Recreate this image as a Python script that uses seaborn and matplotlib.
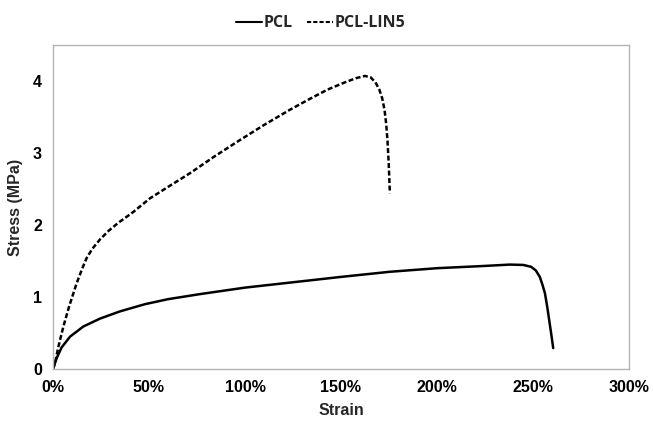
import numpy as np
import pandas as pd
import matplotlib
matplotlib.use("Agg")
import matplotlib.pyplot as plt
import seaborn as sns
from matplotlib.ticker import FuncFormatter
from matplotlib.lines import Line2D

# Data (strain in %, stress in MPa)
pcl_strain = [0, 1.9, 4.5, 8.9, 15.8, 24.5, 34.9, 47.9, 60, 76.6, 100, 126.9, 150.4,
              175.5, 200.2, 224.1, 238, 245, 249, 251.5, 253.6, 255, 256.3, 257.5,
              258.5, 259.6, 260.6]
pcl_stress = [0, 0.15, 0.30, 0.45, 0.59, 0.70, 0.80, 0.90, 0.97, 1.04, 1.13, 1.21, 1.28,
              1.35, 1.40, 1.43, 1.45, 1.445, 1.42, 1.37, 1.28, 1.17, 1.05, 0.86,
              0.68, 0.48, 0.29]

lin_strain = [0, 1, 2.8, 5.4, 8.4, 12.3, 15.3, 17.5, 20.5, 24.5, 29, 34, 41.8, 50.5,
              60, 71.4, 84, 97.4, 110, 123.4, 133, 143, 152, 158, 162.5, 165.5, 168,
              170, 171.5, 172.7, 173.6, 174.3, 174.9, 175.5]
lin_stress = [0, 0.08, 0.31, 0.59, 0.87, 1.19, 1.40, 1.54, 1.67, 1.80, 1.92, 2.03, 2.18,
              2.37, 2.53, 2.72, 2.95, 3.18, 3.39, 3.60, 3.74, 3.88, 3.98, 4.04, 4.07,
              4.05, 3.98, 3.88, 3.76, 3.60, 3.40, 3.15, 2.85, 2.44]

series_names = ["PCL", "PCL-LIN5"]
x_ticks = [0, 50, 100, 150, 200, 250, 300]
y_ticks = [0, 1, 2, 3, 4]

df = pd.concat([
    pd.DataFrame({"Strain": pcl_strain, "Stress": pcl_stress, "Sample": series_names[0]}),
    pd.DataFrame({"Strain": lin_strain, "Stress": lin_stress, "Sample": series_names[1]}),
], ignore_index=True)

sns.set_theme(style="white")
plt.rcParams['font.family'] = ['Liberation Sans', 'DejaVu Sans']

fig = plt.figure(figsize=(6.53, 4.25), dpi=100)
ax = fig.add_axes([0.0812, 0.1318, 0.8818, 0.7624])

dash = (0, (2.0, 1.0))
styles = {"PCL": "-", "PCL-LIN5": dash}
for name in series_names:
    sub = df[df["Sample"] == name]
    sns.lineplot(data=sub, x="Strain", y="Stress", ax=ax, color="black",
                 linewidth=1.8, sort=False, estimator=None, legend=False)
    ax.lines[-1].set_linestyle(styles[name])
    ax.lines[-1].set_solid_joinstyle("round")
    ax.lines[-1].set_dash_joinstyle("round")

ax.set_xlim(0, 300)
ax.set_ylim(0, 4.5)
ax.set_xticks(x_ticks)
ax.set_yticks(y_ticks)
ax.xaxis.set_major_formatter(FuncFormatter(lambda v, p: f"{int(v)}%"))
ax.yaxis.set_major_formatter(FuncFormatter(lambda v, p: f"{int(v)}"))

for s in ax.spines.values():
    s.set_color("#b4b4b4")
    s.set_linewidth(1.0)
    s.set_visible(True)

ax.tick_params(axis="both", which="major", direction="out", length=4, width=1,
               color="#b4b4b4", labelsize=11.5, labelcolor="black", pad=4)
for lab in ax.get_xticklabels() + ax.get_yticklabels():
    lab.set_fontweight("bold")

ax.set_xlabel("Strain", fontsize=11.5, fontweight="bold", labelpad=6)
ax.set_ylabel("Stress (MPa)", fontsize=11.5, fontweight="bold")
ax.yaxis.set_label_coords(-0.052, 0.5)

handles = [Line2D([0], [0], color="black", lw=1.5, linestyle="-"),
           Line2D([0], [0], color="black", lw=1.5, linestyle=(0, (2.0, 1.0)))]
leg = fig.legend(handles, series_names, loc="center", bbox_to_anchor=(0.491, 0.945),
                 ncol=2, frameon=False, handlelength=1.6, handletextpad=0.1,
                 columnspacing=0.9,
                 prop={"family": "Open Sans", "weight": "bold", "size": 11.5})

fig.savefig("out.png", dpi=100)
